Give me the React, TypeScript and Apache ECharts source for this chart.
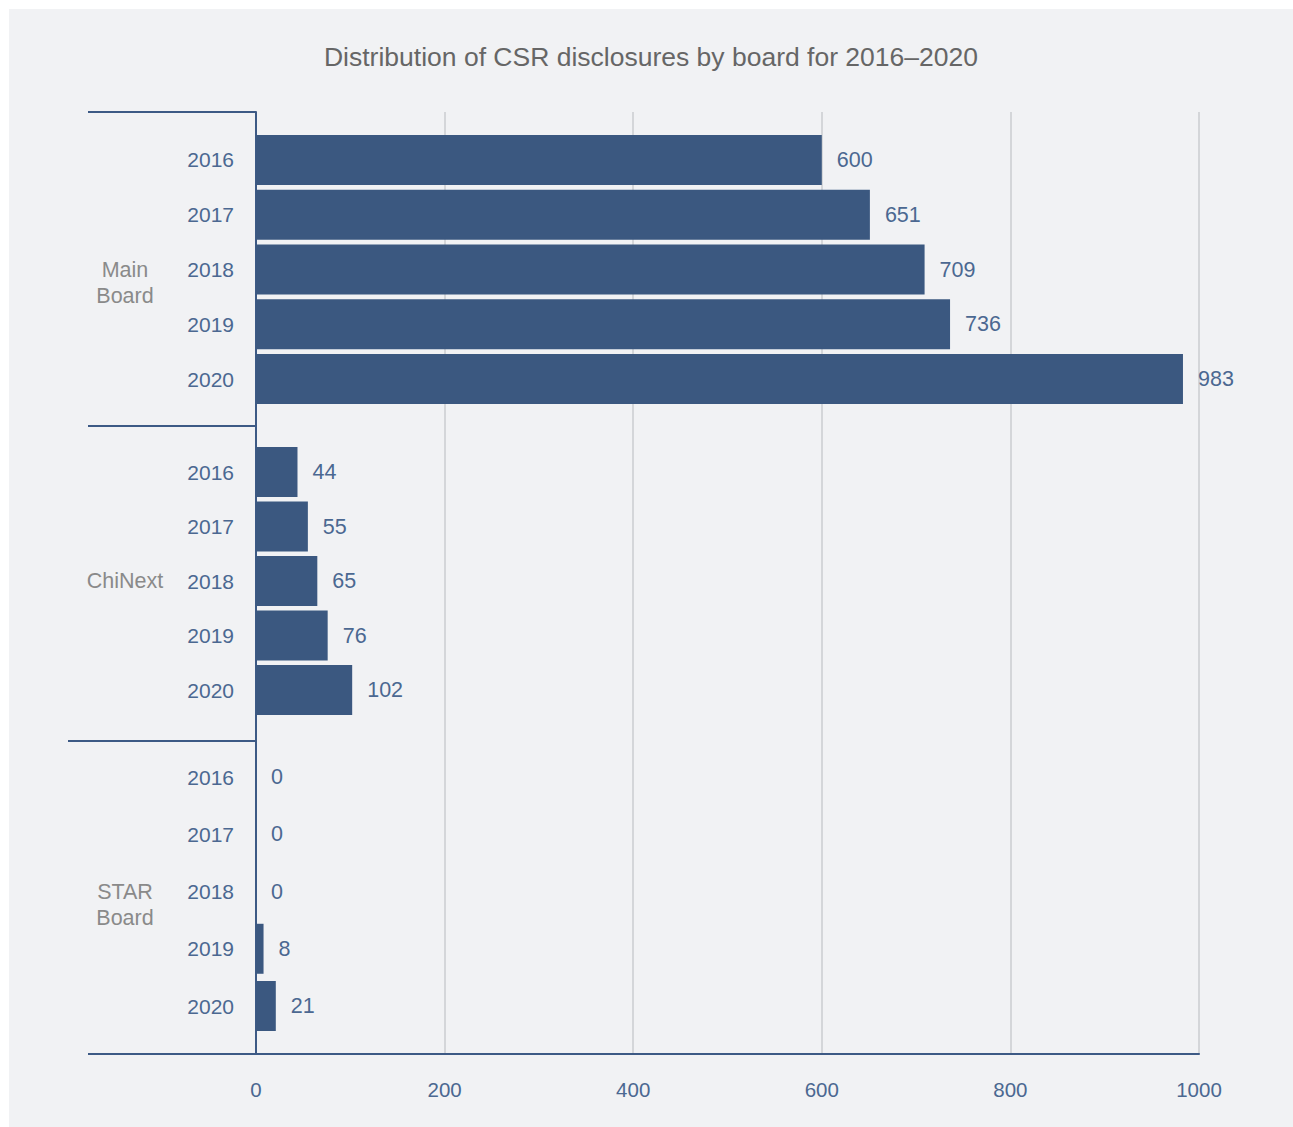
import React, { useEffect, useRef } from "react";
import * as echarts from "echarts";

const years = ["2016", "2017", "2018", "2019", "2020"];
const groups = ["Main\nBoard", "ChiNext", "STAR\nBoard"];
const mainBoard = [600, 651, 709, 736, 983];
const chiNext = [44, 55, 65, 76, 102];
const starBoard = [0, 0, 0, 8, 21];
const xTicks = [0, 200, 400, 600, 800, 1000];
const titleText = "Distribution of CSR disclosures by board for 2016–2020";

const FONT = "'Liberation Sans', Arial, sans-serif";
const BAR = "#3b5880";
const BLUE_TXT = "#4b6891";
const AXIS = "#3d5a85";
const GRID_LINE = "#d4d6d9";

export default function App() {
  const ref = useRef<HTMLDivElement>(null);
  useEffect(() => {
    if (!ref.current) return;
    const chart = echarts.init(ref.current, null, { renderer: "svg" });
    const left = 247;
    const right = 94;
    const bgTop = 103;
    const bgBottom = 1045;
    const groupGrids = [
      { top: 123.5, height: 274 },
      { top: 435.75, height: 272.5 },
      { top: 739.4, height: 286.25 },
    ];
    const seriesData = [mainBoard, chiNext, starBoard];

    const grids: any[] = [
      { left, right, top: bgTop, height: bgBottom - bgTop, containLabel: false },
      ...groupGrids.map((g) => ({ left, right, top: g.top, height: g.height })),
    ];
    const xAxes: any[] = [
      {
        type: "value",
        gridIndex: 0,
        min: 0,
        max: 1000,
        interval: 200,
        axisLine: { show: true, lineStyle: { color: AXIS, width: 2 } },
        axisTick: { show: false },
        axisLabel: {
          color: BLUE_TXT,
          fontSize: 20.5,
          fontFamily: FONT,
          margin: 25,
          formatter: (v: number) => (xTicks.includes(v) ? String(v) : ""),
        },
        splitLine: { show: true, lineStyle: { color: GRID_LINE, width: 2 } },
      },
      ...groupGrids.map((_, i) => ({
        type: "value",
        gridIndex: i + 1,
        min: 0,
        max: 1000,
        show: false,
      })),
    ];
    const yAxes: any[] = [
      {
        type: "category",
        gridIndex: 0,
        data: groups,
        inverse: true,
        axisLine: { show: true, lineStyle: { color: AXIS, width: 2 } },
        axisTick: { show: false },
        axisLabel: { show: false },
        splitLine: { show: false },
      },
      ...groupGrids.map((_, i) => ({
        type: "category",
        gridIndex: i + 1,
        data: years,
        inverse: true,
        axisLine: { show: false },
        axisTick: { show: false },
        splitLine: { show: false },
        axisLabel: {
          color: BLUE_TXT,
          fontSize: 21,
          fontFamily: FONT,
          margin: 22,
        },
      })),
    ];
    const series: any[] = seriesData.map((d, i) => ({
      type: "bar",
      xAxisIndex: i + 1,
      yAxisIndex: i + 1,
      data: d,
      barWidth: 50,
      itemStyle: { color: BAR },
      label: {
        show: true,
        position: "right",
        distance: 15,
        color: BLUE_TXT,
        fontSize: 21.5,
        fontFamily: FONT,
      },
      z: 3,
    }));

    const groupTexts = groups.map((name, i) => {
      const g = groupGrids[i];
      const mid = g.top + g.height / 2;
      const n = name.split("\n").length;
      return {
        type: "text",
        x: 116,
        y: mid + (n - 1) * 13,
        style: {
          text: name,
          fill: "#8a8a8a",
          font: `21.5px ${FONT}`,
          lineHeight: 26,
          align: "center",
          verticalAlign: "middle",
        },
        z: 10,
      };
    });
    const sepYs = [bgTop, 417, 732];
    const sepStarts = [79, 79, 59];
    const lines: any[] = sepYs.map((y, i) => ({
      type: "line",
      shape: { x1: sepStarts[i], y1: y, x2: left, y2: y },
      style: { stroke: AXIS, lineWidth: 2 },
      z: 10,
    }));
    lines.push({
      type: "line",
      shape: { x1: 79, y1: bgBottom, x2: left, y2: bgBottom },
      style: { stroke: AXIS, lineWidth: 2 },
      z: 10,
    });

    chart.setOption({
      animation: false,
      backgroundColor: "#f1f2f4",
      textStyle: { fontFamily: FONT },
      title: {
        text: titleText,
        left: "center",
        top: 29,
        textStyle: { color: "#666666", fontSize: 26.5, fontWeight: "normal", fontFamily: FONT },
      },
      grid: grids,
      xAxis: xAxes,
      yAxis: yAxes,
      series,
      graphic: [...lines, ...groupTexts],
    });
    return () => chart.dispose();
  }, []);
  return (
    <div
      ref={ref}
      style={{ position: "absolute", left: 9, top: 9, width: 1284, height: 1118 }}
    />
  );
}
